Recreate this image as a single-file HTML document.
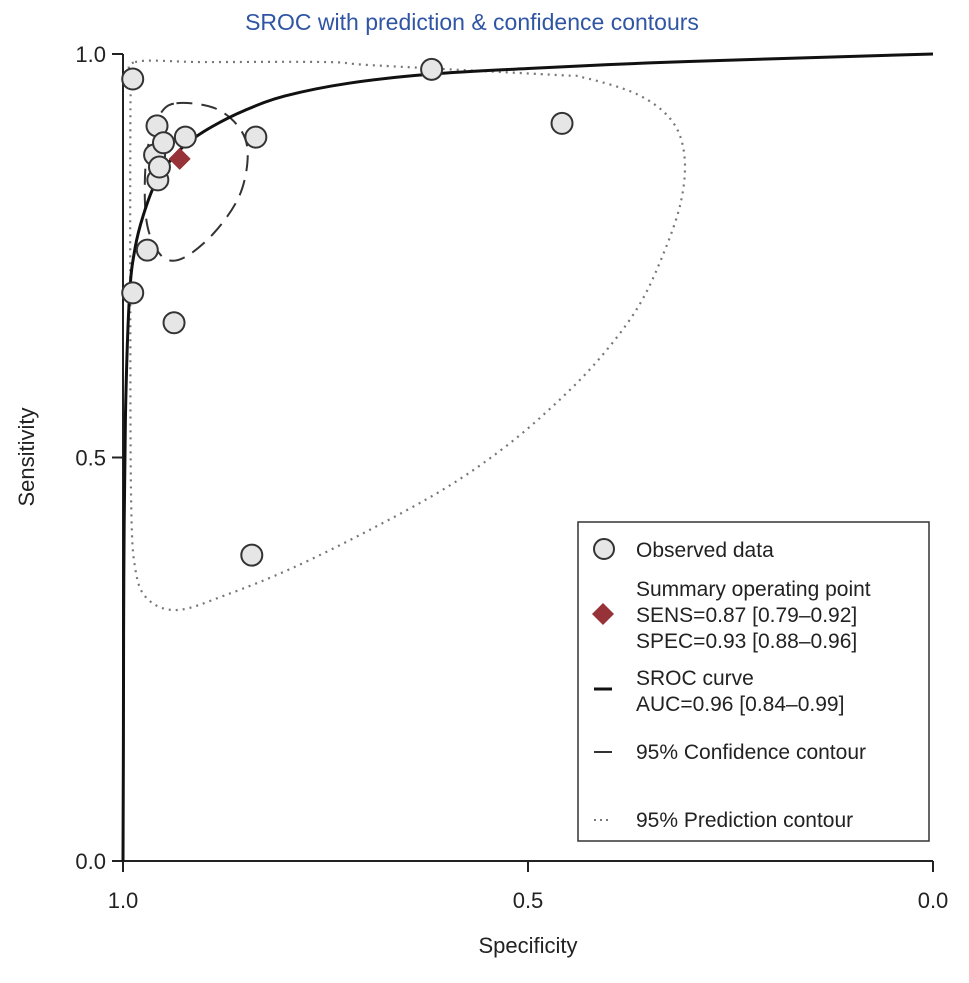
<!DOCTYPE html>
<html><head><meta charset="utf-8"><style>
body{margin:0;background:#fff;}
svg text{font-family:"Liberation Sans",Arial,sans-serif;}
</style></head><body>
<svg id="chart" width="969" height="978" viewBox="0 0 969 978" xmlns="http://www.w3.org/2000/svg">
<text x="472" y="30" text-anchor="middle" font-size="23" fill="#2f55a4">SROC with prediction &amp; confidence contours</text>
<g id="axes"></g>
<g id="marks"></g>
<g id="legend">
<rect x="578" y="522" width="351" height="319" fill="#fff" stroke="#333" stroke-width="1.5"/>
<circle cx="604" cy="549" r="10" fill="#e6e6e6" stroke="#333" stroke-width="2"/>
<text x="636" y="557" font-size="21" fill="#222">Observed data</text>
<polygon points="603,603 614,614 603,625 592,614" fill="#963238"/>
<text x="636" y="596" font-size="21" fill="#222">Summary operating point</text>
<text x="636" y="622" font-size="21" fill="#222">SENS=0.87 [0.79–0.92]</text>
<text x="636" y="648" font-size="21" fill="#222">SPEC=0.93 [0.88–0.96]</text>
<line x1="594" y1="689" x2="612" y2="689" stroke="#111" stroke-width="3"/>
<text x="636" y="685" font-size="21" fill="#222">SROC curve</text>
<text x="636" y="711" font-size="21" fill="#222">AUC=0.96 [0.84–0.99]</text>
<line x1="594" y1="752" x2="612" y2="752" stroke="#333" stroke-width="2"/>
<text x="636" y="759" font-size="21" fill="#222">95% Confidence contour</text>
<line x1="594" y1="820" x2="612" y2="820" stroke="#777" stroke-width="2" stroke-dasharray="2,4"/>
<text x="636" y="827" font-size="21" fill="#222">95% Prediction contour</text>
</g>
</svg>
<script>
// data (specificity, sensitivity)
const obsSpec = [0.988,0.958,0.923,0.961,0.957,0.970,0.988,0.937,0.836,0.619,0.458,0.841,0.950,0.955];
const obsSens = [0.969,0.911,0.897,0.875,0.844,0.757,0.704,0.667,0.897,0.981,0.914,0.379,0.890,0.860];
const summarySpec = [0.93];
const summarySens = [0.87];
const srocSpec = [1.0,0.9995,0.999,0.997,0.992,0.985,0.975,0.960,0.940,0.920,0.890,0.850,0.800,0.720,0.620,0.500,0.350,0.200,0.0];
const srocSens = [0.0,0.15,0.35,0.55,0.70,0.76,0.80,0.84,0.87,0.89,0.91,0.93,0.948,0.964,0.975,0.982,0.989,0.994,1.0];
const confSpec = [0.934,0.887,0.856,0.846,0.856,0.887,0.924,0.949,0.967,0.973,0.970,0.955];
const confSens = [0.939,0.933,0.908,0.875,0.825,0.779,0.748,0.747,0.776,0.819,0.881,0.924];
const predSpec = [0.985,0.900,0.748,0.691,0.465,0.432,0.365,0.323,0.307,0.311,0.333,0.365,0.414,0.470,0.531,0.602,0.696,0.791,0.872,0.933,0.970,0.985,0.990,0.991,0.991,0.990];
const predSens = [0.990,0.990,0.990,0.986,0.974,0.971,0.950,0.918,0.875,0.818,0.752,0.685,0.620,0.563,0.511,0.462,0.410,0.363,0.330,0.311,0.325,0.363,0.449,0.695,0.881,0.965];
const xTicks = [1.0,0.5,0.0];
const yTicks = [0.0,0.5,1.0];

const NS='http://www.w3.org/2000/svg';
const X0=123,X1=933,Y0=861,Y1=54;
function sx(v){return X0+(1-v)*(X1-X0);}
function sy(v){return Y0-v*(Y0-Y1);}
function mk(tag,attrs,parent){const e=document.createElementNS(NS,tag);for(const k in attrs)e.setAttribute(k,attrs[k]);parent.appendChild(e);return e;}
const axes=document.getElementById('axes'), marks=document.getElementById('marks');

let e=mk('line',{x1:X0,y1:Y0,x2:X1,y2:Y0,stroke:'#222','stroke-width':2},axes);


e=mk('line',{x1:X0,y1:Y0,x2:X0,y2:Y1,stroke:'#222','stroke-width':2},axes);


xTicks.forEach(t=>{
 const l=mk('line',{x1:sx(t),y1:Y0,x2:sx(t),y2:Y0+11,stroke:'#222','stroke-width':2},axes);
 
 
 const tx=mk('text',{x:sx(t),y:Y0+47,'text-anchor':'middle','font-size':22,fill:'#222'},axes);
 tx.textContent=t.toFixed(1);
 
 
});
yTicks.forEach(t=>{
 const l=mk('line',{x1:X0-11,y1:sy(t),x2:X0,y2:sy(t),stroke:'#222','stroke-width':2},axes);
 
 
 const tx=mk('text',{x:X0-17,y:sy(t)+8,'text-anchor':'end','font-size':22,fill:'#222'},axes);
 tx.textContent=t.toFixed(1);
 
 
});
e=mk('text',{x:528,y:953,'text-anchor':'middle','font-size':22,fill:'#222'},axes);
e.textContent='Specificity';


e=mk('text',{x:0,y:0,'text-anchor':'middle','font-size':22,fill:'#222',transform:'translate(34,457) rotate(-90)'},axes);
e.textContent='Sensitivity';



function smooth(xs,ys,closed){
 const p=xs.map((v,i)=>[sx(v),sy(ys[i])]);const n=p.length;
 let d='M'+p[0][0]+','+p[0][1];
 const last=closed?n:n-1;
 for(let i=0;i<last;i++){
  const g=k=>closed?p[(k+n)%n]:p[Math.max(0,Math.min(n-1,k))];
  const a=g(i-1),b=g(i),c=g(i+1),f=g(i+2);
  d+=' C'+(b[0]+(c[0]-a[0])/6)+','+(b[1]+(c[1]-a[1])/6)+' '+(c[0]-(f[0]-b[0])/6)+','+(c[1]-(f[1]-b[1])/6)+' '+c[0]+','+c[1];
 }
 return d+(closed?'Z':'');
}
e=mk('path',{d:smooth(predSpec,predSens,true),fill:'none',stroke:'#777','stroke-width':2.2,'stroke-dasharray':'2,5'},marks);


e=mk('path',{d:smooth(confSpec,confSens,true),fill:'none',stroke:'#333','stroke-width':2,'stroke-dasharray':'16,9'},marks);


e=mk('path',{d:smooth(srocSpec,srocSens,false),fill:'none',stroke:'#111','stroke-width':3},marks);


obsSpec.forEach((v,i)=>{
 const c=mk('circle',{cx:sx(v),cy:sy(obsSens[i]),r:10.5,fill:'#e6e6e6',stroke:'#333','stroke-width':2},marks);
 
 
});
summarySpec.forEach((v,i)=>{
 const cx=sx(v),cy=sy(summarySens[i]);
 const d=mk('polygon',{points:`${cx},${cy-11} ${cx+11},${cy} ${cx},${cy+11} ${cx-11},${cy}`,fill:'#963238'},marks);
 
 
});
</script>
</body></html>
